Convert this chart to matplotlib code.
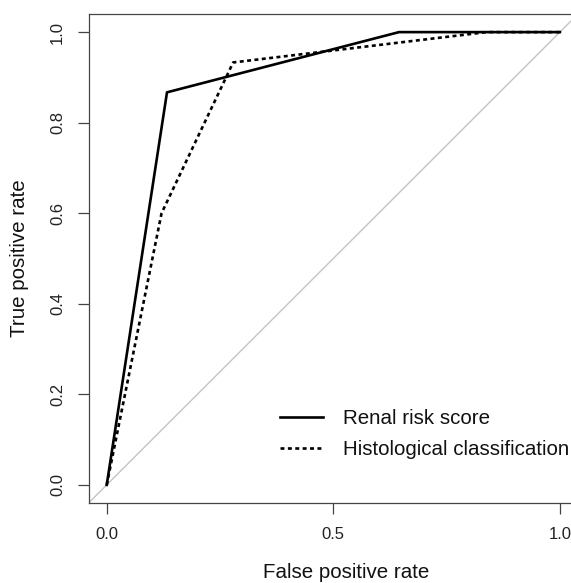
import matplotlib
matplotlib.use("Agg")
import matplotlib.pyplot as plt

plt.rcParams['font.family'] = ['Liberation Sans', 'DejaVu Sans']

# ROC data
renal_fpr = [0.0, 0.133, 0.645, 1.0]
renal_tpr = [0.0, 0.867, 1.0, 1.0]
hist_fpr = [0.0, 0.121, 0.279, 0.838, 1.0]
hist_tpr = [0.0, 0.600, 0.933, 1.0, 1.0]
series_labels = ["Renal risk score", "Histological classification"]
xticks = [0.0, 0.5, 1.0]
xtick_labels = ["0.0", "0.5", "1.0"]
yticks = [0.0, 0.2, 0.4, 0.6, 0.8, 1.0]
ytick_labels = ["0.0", "0.2", "0.4", "0.6", "0.8", "1.0"]

W, H = 571, 583
fig = plt.figure(figsize=(W / 100, H / 100), dpi=100)
left, right, top, bottom = 88.6, 578.0, 14.0, 503.0
ax = fig.add_axes([left / W, (H - bottom) / H, (right - left) / W, (bottom - top) / H])
ax.patch.set_visible(False)

ax.axline((0, 0), slope=1, color='#c4c4c4', lw=1.0, zorder=1)
ax.plot(renal_fpr, renal_tpr, color='black', lw=1.9, label=series_labels[0], zorder=3)
ax.plot(hist_fpr, hist_tpr, color='black', lw=1.9, linestyle=(0, (1.5, 1.3)),
        label=series_labels[1], zorder=2)

ax.set_xlim(-0.04, 1.04)
ax.set_ylim(-0.04, 1.04)
ax.set_xticks(xticks)
ax.set_xticklabels(xtick_labels)
ax.set_yticks(yticks)
ax.set_yticklabels(ytick_labels, rotation=90, va='center')

axcol = '#444444'
for s in ax.spines.values():
    s.set_color(axcol)
    s.set_linewidth(0.9)
ax.spines['right'].set_visible(False)
ax.tick_params(axis='both', direction='out', length=8, width=0.9, color=axcol,
               labelsize=12, labelcolor='#222222', pad=9)

ax.set_xlabel("False positive rate", fontsize=14.8, color='#111111')
ax.set_ylabel("True positive rate", fontsize=14.8, color='#111111')
ax.xaxis.set_label_coords((346.5 - left) / (right - left), (bottom - 573) / (bottom - top))
ax.xaxis.label.set_va('center')
ax.yaxis.set_label_coords((20 - left) / (right - left), (bottom - 258) / (bottom - top))
ax.yaxis.label.set_va('center')

leg = ax.legend(loc='upper left', bbox_to_anchor=(280 / W, (H - 409) / H),
                bbox_transform=fig.transFigure, frameon=False, fontsize=14.8,
                handlelength=2.1, handletextpad=0.95, borderpad=0, borderaxespad=0,
                labelspacing=0.6)
for t in leg.get_texts():
    t.set_color('#111111')

fig.savefig("out.png", dpi=100)
